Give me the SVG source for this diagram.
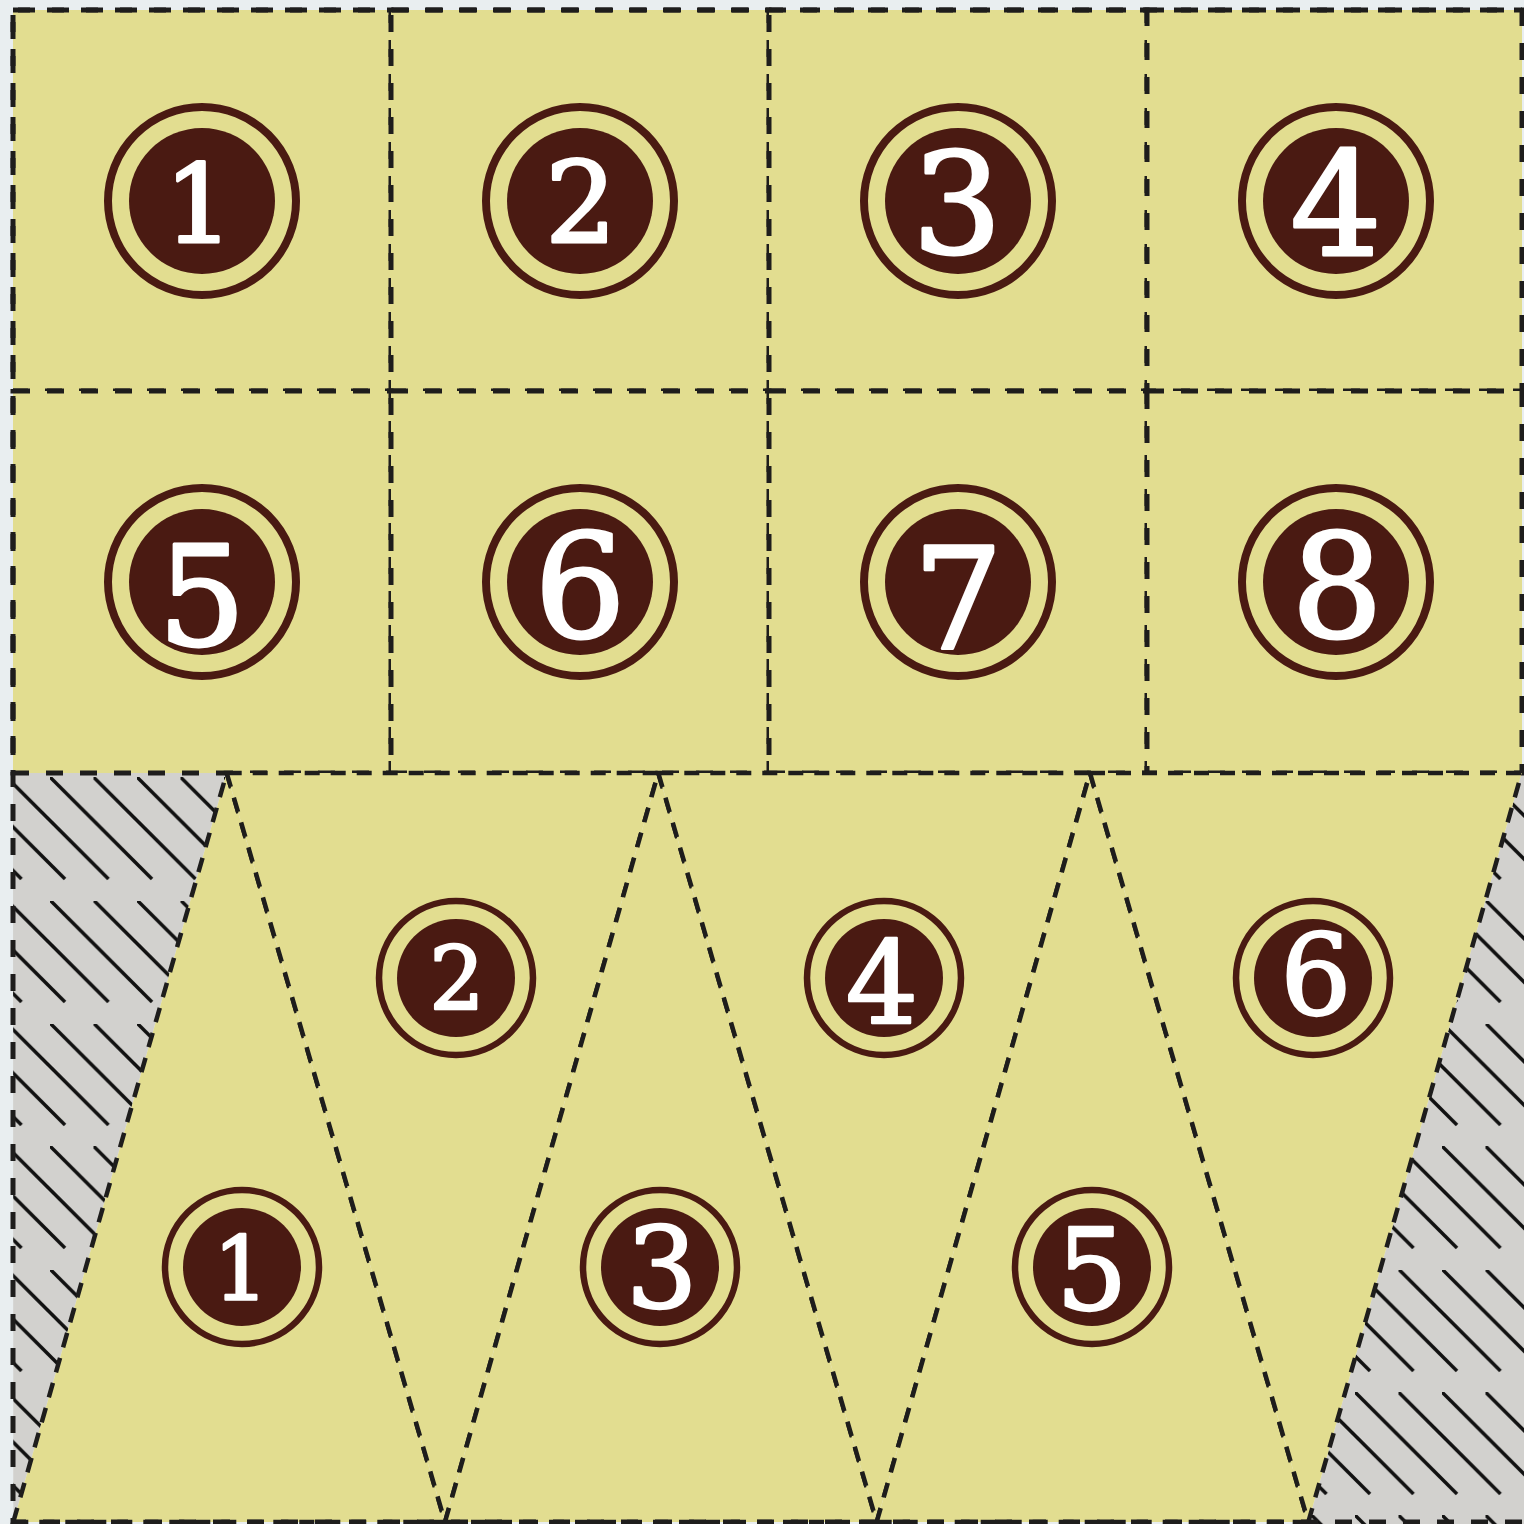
<svg xmlns="http://www.w3.org/2000/svg" width="1524" height="1524" viewBox="0 0 1524 1524">
<style>
.cell{fill:#e2dd90;stroke:#1e1d1c;stroke-width:5;stroke-dasharray:17 17}
.tri{fill:#e2dd90;stroke:#1e1d1c;stroke-width:4.5;stroke-dasharray:15 11;stroke-linejoin:miter}
.gray{fill:url(#hatch);stroke:none}
.ring{fill:none;stroke:#4a1a12}
.dot{fill:#4a1a12}
.num{fill:#ffffff;stroke:#ffffff;stroke-width:3;stroke-linejoin:round;font-family:"DejaVu Serif","Liberation Serif",serif;text-anchor:middle}
.sm{stroke-width:2.4}
</style>
<defs>
<pattern id="hatch" patternUnits="userSpaceOnUse" x="6.5" y="777" width="43.5" height="123">
<rect x="0" y="0" width="43.5" height="123" fill="#d2d1ce"/>
<g stroke="#111" stroke-width="3.4">
<line x1="0" y1="0" x2="102" y2="102"/>
<line x1="-43.5" y1="0" x2="58.5" y2="102"/>
<line x1="-87" y1="0" x2="15" y2="102"/>
</g>
</pattern>
</defs>
<rect x="0" y="0" width="1524" height="1524" fill="#e9eef0"/>
<g id="hatched-regions">
<polygon class="gray" points="13,773 226.7,773 13.3,1522"/>
<polygon class="gray" points="1521.7,773 1524,773 1524,1524 1308.3,1524 1308.3,1522"/>
</g>
<g id="cells">
<g id="cell-1"><rect class="cell" x="13" y="10" width="378" height="381"/>
<circle class="ring" cx="202" cy="201" r="94" stroke-width="8"/><circle class="dot" cx="202" cy="201" r="73"/>
<text class="num" x="199" y="242" font-size="109">1</text></g>
<g id="cell-2"><rect class="cell" x="391" y="10" width="378" height="381"/>
<circle class="ring" cx="580" cy="201" r="94" stroke-width="8"/><circle class="dot" cx="580" cy="201" r="73"/>
<text class="num" x="581" y="242" font-size="112">2</text></g>
<g id="cell-3"><rect class="cell" x="769" y="10" width="378" height="381"/>
<circle class="ring" cx="958" cy="201" r="94" stroke-width="8"/><circle class="dot" cx="958" cy="201" r="73"/>
<text class="num" x="957" y="253" font-size="141">3</text></g>
<g id="cell-4"><rect class="cell" x="1147" y="10" width="375" height="381"/>
<circle class="ring" cx="1336" cy="201" r="94" stroke-width="8"/><circle class="dot" cx="1336" cy="201" r="73"/>
<text class="num" x="1336" y="255" font-size="144">4</text></g>
<g id="cell-5"><rect class="cell" x="13" y="391" width="378" height="382"/>
<circle class="ring" cx="202" cy="582" r="94" stroke-width="8"/><circle class="dot" cx="202" cy="582" r="73"/>
<text class="num" x="202" y="645" font-size="138">5</text></g>
<g id="cell-6"><rect class="cell" x="391" y="391" width="378" height="382"/>
<circle class="ring" cx="580" cy="582" r="94" stroke-width="8"/><circle class="dot" cx="580" cy="582" r="73"/>
<text class="num" x="580" y="637" font-size="144">6</text></g>
<g id="cell-7"><rect class="cell" x="769" y="391" width="378" height="382"/>
<circle class="ring" cx="958" cy="582" r="94" stroke-width="8"/><circle class="dot" cx="958" cy="582" r="73"/>
<text class="num" x="958" y="648" font-size="141">7</text></g>
<g id="cell-8"><rect class="cell" x="1147" y="391" width="375" height="382"/>
<circle class="ring" cx="1336" cy="582" r="94" stroke-width="8"/><circle class="dot" cx="1336" cy="582" r="73"/>
<text class="num" x="1337" y="637" font-size="144">8</text></g>
</g>
<g id="triangles">
<g id="tri-1"><polygon class="tri" points="13.3,1522 445,1522 226.7,773"/>
<circle class="ring" cx="242" cy="1267" r="77" stroke-width="6.5"/><circle class="dot" cx="242" cy="1267" r="59"/>
<text class="num sm" x="241" y="1300" font-size="87">1</text></g>
<g id="tri-2"><polygon class="tri" points="226.7,773 658.3,773 445,1522"/>
<circle class="ring" cx="456" cy="978" r="77" stroke-width="6.5"/><circle class="dot" cx="456" cy="978" r="59"/>
<text class="num sm" x="457" y="1010" font-size="87">2</text></g>
<g id="tri-3"><polygon class="tri" points="445,1522 876.7,1522 658.3,773"/>
<circle class="ring" cx="660" cy="1267" r="77" stroke-width="6.5"/><circle class="dot" cx="660" cy="1267" r="59"/>
<text class="num sm" x="662" y="1307" font-size="112">3</text></g>
<g id="tri-4"><polygon class="tri" points="658.3,773 1090,773 876.7,1522"/>
<circle class="ring" cx="884" cy="978" r="77" stroke-width="6.5"/><circle class="dot" cx="884" cy="978" r="59"/>
<text class="num sm" x="882" y="1023" font-size="114">4</text></g>
<g id="tri-5"><polygon class="tri" points="876.7,1522 1308.3,1522 1090,773"/>
<circle class="ring" cx="1092" cy="1267" r="77" stroke-width="6.5"/><circle class="dot" cx="1092" cy="1267" r="59"/>
<text class="num sm" x="1092" y="1309" font-size="112">5</text></g>
<g id="tri-6"><polygon class="tri" points="1090,773 1521.7,773 1308.3,1522"/>
<circle class="ring" cx="1313" cy="978" r="77" stroke-width="6.5"/><circle class="dot" cx="1313" cy="978" r="59"/>
<text class="num sm" x="1316" y="1014" font-size="112">6</text></g>
</g>
<g id="frame">
<path d="M1522,1522 H13 V10 H1522" fill="none" stroke="#1e1d1c" stroke-width="5" stroke-dasharray="17 17"/>
</g>
</svg>
